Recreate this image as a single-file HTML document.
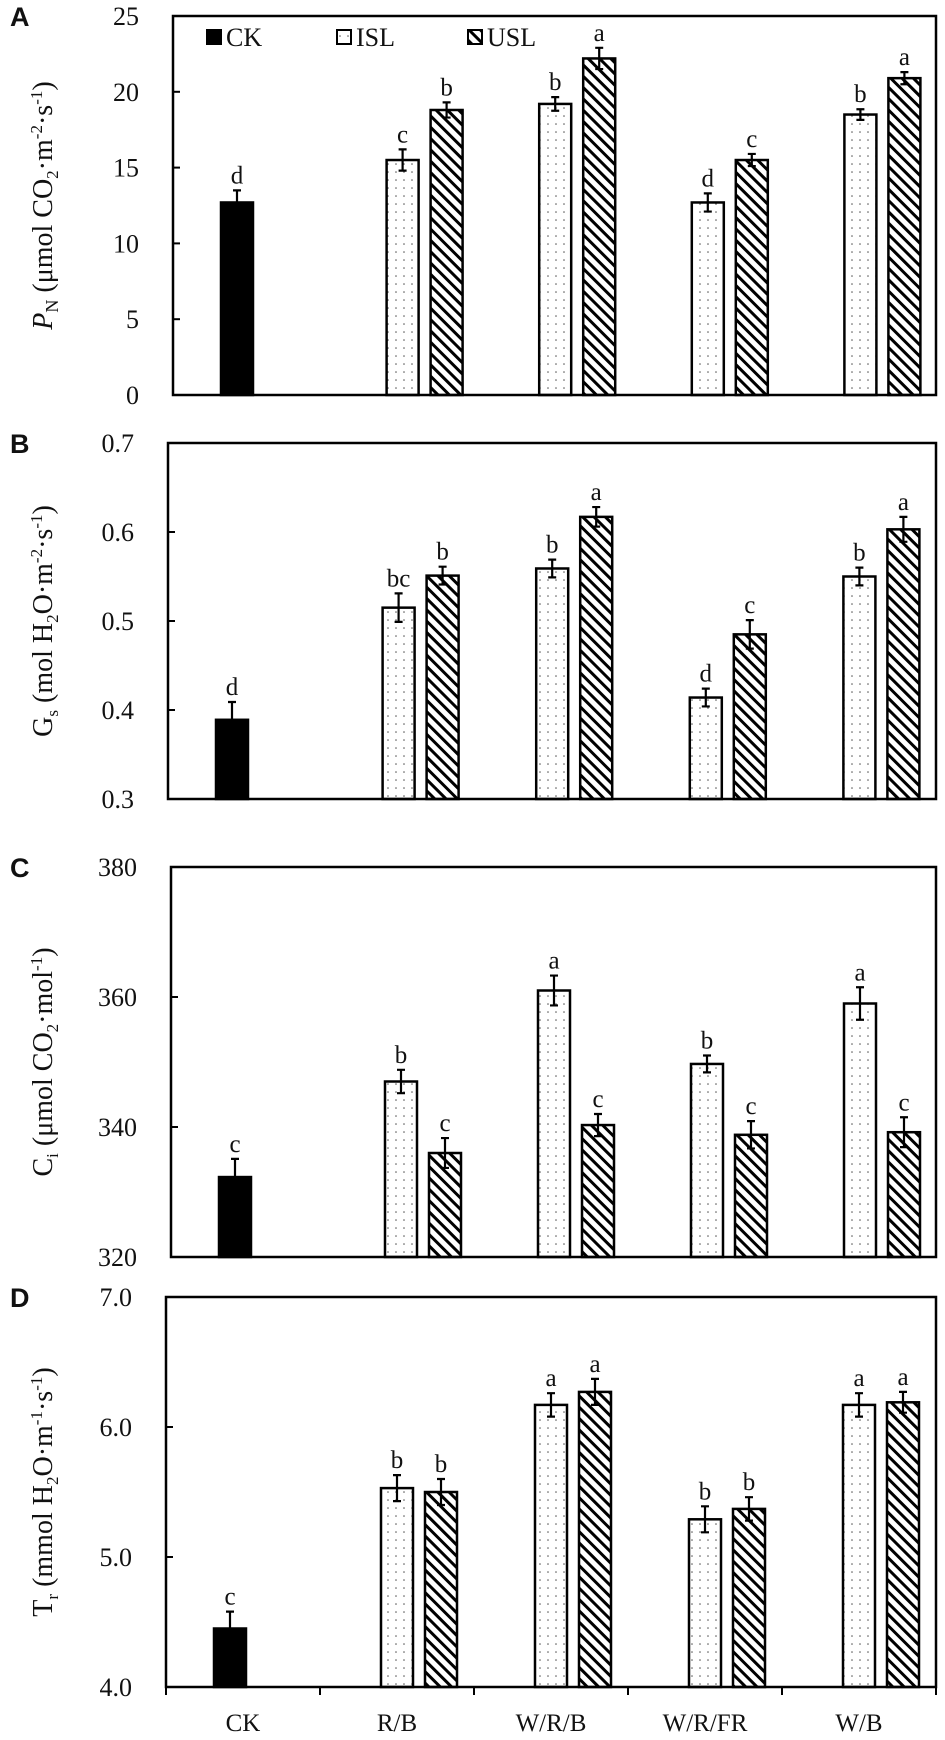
<!DOCTYPE html>
<html><head><meta charset="utf-8">
<style>
html,body{margin:0;padding:0;background:#fff;}
svg{display:block;}
text{font-family:"Liberation Serif",serif;fill:#111;}
.lett{font-family:"Liberation Sans",sans-serif;font-weight:bold;font-size:27px;}
</style></head>
<body>
<svg id="chart" width="945" height="1740" viewBox="0 0 945 1740" xmlns="http://www.w3.org/2000/svg">
<defs>
<pattern id="dots" width="8" height="8" patternUnits="userSpaceOnUse"><rect width="8" height="8" fill="#fff"/><circle cx="4" cy="4" r="0.8" fill="#555"/></pattern>
<pattern id="hatch" width="8" height="8" patternUnits="userSpaceOnUse" patternTransform="rotate(45)"><rect width="8" height="8" fill="#fff"/><rect x="0" y="0" width="8" height="3" fill="#000"/></pattern>
</defs>
</svg>
<script>
const categories=["CK","R/B","W/R/B","W/R/FR","W/B"];
// Panel A  PN
const pnCK=[12.7], pnCKErr=[0.8], pnCKLbl=["d"];
const pnISL=[15.5,19.2,12.7,18.5], pnISLErr=[0.7,0.45,0.6,0.35], pnISLLbl=["c","b","d","b"];
const pnUSL=[18.8,22.2,15.5,20.9], pnUSLErr=[0.5,0.7,0.4,0.4], pnUSLLbl=["b","a","c","a"];
const pnTicks=[0,5,10,15,20,25];
// Panel B  Gs
const gsCK=[0.389], gsCKErr=[0.02], gsCKLbl=["d"];
const gsISL=[0.515,0.559,0.414,0.55], gsISLErr=[0.016,0.01,0.01,0.01], gsISLLbl=["bc","b","d","b"];
const gsUSL=[0.551,0.617,0.485,0.603], gsUSLErr=[0.01,0.011,0.016,0.014], gsUSLLbl=["b","a","c","a"];
const gsTicks=[0.3,0.4,0.5,0.6,0.7];
// Panel C  Ci
const ciCK=[332.3], ciCKErr=[2.8], ciCKLbl=["c"];
const ciISL=[347,361,349.7,359], ciISLErr=[1.8,2.3,1.3,2.5], ciISLLbl=["b","a","b","a"];
const ciUSL=[336,340.3,338.8,339.2], ciUSLErr=[2.3,1.7,2.1,2.3], ciUSLLbl=["c","c","c","c"];
const ciTicks=[320,340,360,380];
// Panel D  Tr
const trCK=[4.45], trCKErr=[0.13], trCKLbl=["c"];
const trISL=[5.53,6.17,5.29,6.17], trISLErr=[0.1,0.09,0.1,0.09], trISLLbl=["b","a","b","a"];
const trUSL=[5.5,6.27,5.37,6.19], trUSLErr=[0.1,0.1,0.09,0.08], trUSLLbl=["b","a","b","a"];
const trTicks=["4.0","5.0","6.0","7.0"];

const svg=document.getElementById('chart');
const NS="http://www.w3.org/2000/svg";
function mk(tag,attrs,parent){const e=document.createElementNS(NS,tag);for(const k in attrs)e.setAttribute(k,attrs[k]);(parent||svg).appendChild(e);return e;}

const panels=[
 {key:"a",letter:"A",left:173,top:16,bottom:395,min:0,max:25,ticks:pnTicks,dec:0,ck:pnCK,ckE:pnCKErr,ckL:pnCKLbl,isl:pnISL,islE:pnISLErr,islL:pnISLLbl,usl:pnUSL,uslE:pnUSLErr,uslL:pnUSLLbl,
  title:'<tspan font-style="italic">P</tspan><tspan font-size="18" dy="6">N</tspan><tspan dy="-6"> (μmol CO</tspan><tspan font-size="17" dy="6">2</tspan><tspan dy="-6">·m</tspan><tspan font-size="17" dy="-10">-2</tspan><tspan dy="10">·s</tspan><tspan font-size="17" dy="-10">-1</tspan><tspan dy="10">)</tspan>'},
 {key:"b",letter:"B",left:168,top:443,bottom:799,min:0.3,max:0.7,ticks:gsTicks,dec:1,ck:gsCK,ckE:gsCKErr,ckL:gsCKLbl,isl:gsISL,islE:gsISLErr,islL:gsISLLbl,usl:gsUSL,uslE:gsUSLErr,uslL:gsUSLLbl,
  title:'<tspan>G</tspan><tspan font-size="17" dy="6">s</tspan><tspan dy="-6"> (mol H</tspan><tspan font-size="17" dy="6">2</tspan><tspan dy="-6">O·m</tspan><tspan font-size="17" dy="-10">-2</tspan><tspan dy="10">·s</tspan><tspan font-size="17" dy="-10">-1</tspan><tspan dy="10">)</tspan>'},
 {key:"c",letter:"C",left:171,top:867,bottom:1257,min:320,max:380,ticks:ciTicks,dec:0,ck:ciCK,ckE:ciCKErr,ckL:ciCKLbl,isl:ciISL,islE:ciISLErr,islL:ciISLLbl,usl:ciUSL,uslE:ciUSLErr,uslL:ciUSLLbl,
  title:'<tspan>C</tspan><tspan font-size="17" dy="6">i</tspan><tspan dy="-6"> (μmol CO</tspan><tspan font-size="17" dy="6">2</tspan><tspan dy="-6">·mol</tspan><tspan font-size="17" dy="-10">-1</tspan><tspan dy="10">)</tspan>'},
 {key:"d",letter:"D",left:166,top:1297,bottom:1687,min:4,max:7,ticks:trTicks,dec:1,ck:trCK,ckE:trCKErr,ckL:trCKLbl,isl:trISL,islE:trISLErr,islL:trISLLbl,usl:trUSL,uslE:trUSLErr,uslL:trUSLLbl,
  title:'<tspan>T</tspan><tspan font-size="17" dy="6">r</tspan><tspan dy="-6"> (mmol H</tspan><tspan font-size="17" dy="6">2</tspan><tspan dy="-6">O·m</tspan><tspan font-size="17" dy="-10">-1</tspan><tspan dy="10">·s</tspan><tspan font-size="17" dy="-10">-1</tspan><tspan dy="10">)</tspan>'}
];
const RIGHT=936, BW=32;

panels.forEach(p=>{
  const g=mk('g',{});
  
  
  const y=v=>p.bottom-(v-p.min)/(p.max-p.min)*(p.bottom-p.top);
  const cw=(RIGHT-p.left)/5;
  const lt=mk('text',{x:10,y:p.top+10,'class':'lett'},g);lt.textContent=p.letter;
  
  
  p.ticks.forEach(t=>{
    const v=parseFloat(t), yy=y(v);
    const tk=mk('line',{x1:p.left,x2:p.left+7,y1:yy,y2:yy,stroke:'#000','stroke-width':2},g);
    
    
    const tl=mk('text',{x:p.left-34,y:yy+9,'text-anchor':'end','font-size':26},g);
    tl.textContent=typeof t==='string'?t:v.toFixed(p.dec);
    
    
  });
  const tt=mk('text',{x:0,y:0,'font-size':28,'text-anchor':'middle',transform:`translate(52,${(p.top+p.bottom)/2}) rotate(-90)`},g);
  tt.innerHTML=p.title;
  
  
  function bar(cx,v,e,l,fill,name){
    const top=y(v);
    const r=mk('rect',{x:cx-BW/2,y:top,width:BW,height:p.bottom-top,fill:fill,stroke:'#000','stroke-width':2.5},g);
    
    
    const y1=y(v+e),y2=y(v-e);
    const eb=mk('path',{d:`M${cx},${y1}V${y2}M${cx-4},${y1}H${cx+4}M${cx-4},${y2}H${cx+4}`,stroke:'#000','stroke-width':2.2,fill:'none'},g);
    
    
    const lb=mk('text',{x:cx,y:y1-7,'text-anchor':'middle','font-size':25},g);
    lb.textContent=l;
    
    
  }
  bar(p.left+64,p.ck[0],p.ckE[0],p.ckL[0],'#000','bar-ck');
  for(let i=0;i<4;i++){
    const c0=p.left+cw*(i+1);
    bar(c0+77,p.isl[i],p.islE[i],p.islL[i],'url(#dots)','bar-isl-'+categories[i+1]);
    bar(c0+121,p.usl[i],p.uslE[i],p.uslL[i],'url(#hatch)','bar-usl-'+categories[i+1]);
  }
  const fr=mk('rect',{x:p.left,y:p.top,width:RIGHT-p.left,height:p.bottom-p.top,fill:'none',stroke:'#000','stroke-width':2.5},g);
  
  
  if(p.key==='d'){
    for(let i=0;i<=5;i++){
      const xx=p.left+cw*i;
      const tk=mk('line',{x1:xx,x2:xx,y1:p.bottom,y2:p.bottom+8,stroke:'#000','stroke-width':2},g);
      
      
    }
    categories.forEach((c,i)=>{
      const xl=mk('text',{x:p.left+cw*(i+0.5),y:1731,'text-anchor':'middle','font-size':25},g);
      xl.textContent=c;
      
      
    });
  }
});
const lg=mk('g',{});


[["CK",207,'#000'],["ISL",337,'url(#dots)'],["USL",468,'url(#hatch)']].forEach(([n,x,f])=>{
  const s=mk('rect',{x:x,y:30,width:14,height:14,fill:f,stroke:'#000','stroke-width':2},lg);
  
  
  const t=mk('text',{x:x+19,y:46,'font-size':26},lg);
  t.textContent=n;
  
  
});
</script>
</body></html>
